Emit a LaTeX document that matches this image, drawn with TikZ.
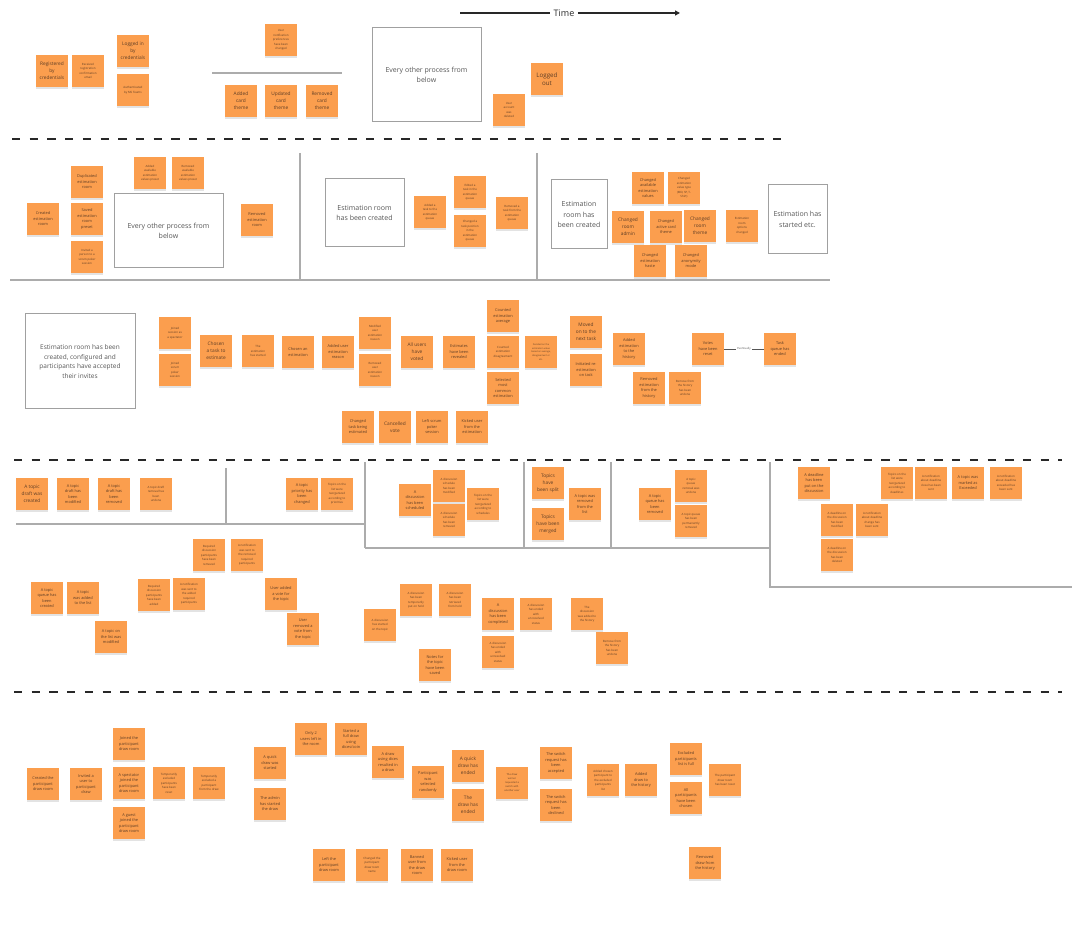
\documentclass[tikz,border=0pt]{standalone}
\usepackage{fontspec}
\setmainfont{Open Sans}
\usetikzlibrary{arrows.meta,positioning,shadows}

\definecolor{sticky}{RGB}{251,158,78}
\definecolor{stickytext}{RGB}{95,62,38}
\definecolor{divider}{RGB}{172,172,172}
\definecolor{boxline}{RGB}{160,160,160}
\definecolor{boxtext}{RGB}{85,85,85}
\definecolor{lane}{RGB}{40,40,40}

\begin{document}
\begin{tikzpicture}[x=1pt, y=-1pt,
  note/.style={rectangle, fill=sticky, text=stickytext, minimum width=32, minimum height=32, inner sep=1pt, align=center,
    drop shadow={shadow xshift=0pt, shadow yshift=-1.6pt, opacity=.22}},
  ltxt/.style={note, font=\fontsize{4.8}{7}\selectfont},
  mtxt/.style={note, font=\fontsize{3.9}{5.5}\selectfont},
  stxt/.style={note, font=\fontsize{2.9}{4.5}\selectfont},
  procbox/.style={rectangle, draw=boxline, line width=1pt, text=boxtext, align=center, font=\fontsize{7}{10.5}\selectfont},
  divide/.style={divider, line width=1.3pt},
  lanesep/.style={lane, line width=2pt, dash pattern=on 8.3pt off 9.4pt}]
\useasboundingbox (0,0) rectangle (1080,925);

% swimlane separators
\foreach \ya/\xa/\xb in {139/12/790, 460/14/1062, 692/14/1062}
  \draw[lanesep] (\xa,\ya) -- (\xb,\ya);

% time axis
\node[font=\fontsize{9}{10}\selectfont, text=lane] (time) at (564,13) {Time};
\coordinate (tstart) at (460,13);
\coordinate (tend) at (680,13);
\draw[lane, line width=1.3pt] (tstart) -- (time.west);
\draw[lane, line width=1.3pt, -{Triangle[length=5pt,width=5pt]}] (time.east) -- (tend);

% ---- accounts ----
\node[ltxt] (reg) at (52,71) {Registered\\by\\credentials};
\node[stxt] (regmail) at (88,71) {Received\\registration\\confirmation\\email};
\node[ltxt] (login) at (133,51) {Logged in\\by\\credentials};
\node[stxt] (msteams) at (133,90) {Authenticated\\by MS Teams};
\node[stxt] (notifpref) at (281,40) {User\\notification\\preferences\\have been\\changed};
\draw[divide] (212,73) -- (342,73);
\node[ltxt] (addtheme) at (241,101) {Added\\card\\theme};
\node[ltxt] (updtheme) at (281,101) {Updated\\card\\theme};
\node[ltxt] (remtheme) at (322,101) {Removed\\card\\theme};
\node[procbox, minimum width=109, minimum height=94] (other1) at (426.5,75) {Every other process from\\below};
\node[note, font=\fontsize{6.2}{8.5}\selectfont] (logout) at (547,79) {Logged\\out};
\node[stxt] (accdel) at (509,110) {User\\account\\was\\deleted};

% ---- estimation room setup ----
\draw[divide] (300,153) -- (300,280);
\draw[divide] (537,153) -- (537,280);
\draw[divide] (10,280) -- (830,280);
\node[mtxt] (created) at (43,219) {Created\\estimation\\room};
\node[mtxt] (dup) at (87,182) {Duplicated\\estimation\\room};
\node[mtxt] (saved) at (87,219) {Saved\\estimation\\room\\preset};
\node[stxt] (invited) at (87,257) {Invited a\\person to a\\scrum poker\\session};
\node[stxt] (addpreset) at (150,173) {Added\\available\\estimation\\values preset};
\node[stxt] (rempreset) at (188,173) {Removed\\available\\estimation\\values preset};
\node[procbox, minimum width=109, minimum height=74] (other2) at (168.5,231) {Every other process from\\below};
\node[mtxt] (remroom) at (257,220) {Removed\\estimation\\room};
\node[procbox, minimum width=79, minimum height=68] (roomcr1) at (364.5,213) {Estimation room\\has been created};
\node[stxt] (addtask) at (430,212) {Added a\\task to the\\estimation\\queue};
\node[stxt] (edittask) at (470,192) {Edited a\\task in the\\estimation\\queue};
\node[stxt] (postask) at (470,231) {Changed a\\task position\\in the\\estimation\\queue};
\node[stxt] (remtask) at (512,213) {Removed a\\task from the\\estimation\\queue};
\node[procbox, minimum width=56, minimum height=69] (roomcr2) at (579,214.5) {Estimation\\room has\\been created};
\node[mtxt] (chvalues) at (648,188) {Changed\\available\\estimation\\values};
\node[stxt] (chtype) at (684,188) {Changed\\estimation\\value type\\(MD, SP, T-\\Shirt)};
\node[ltxt] (chadmin) at (628,227) {Changed\\room\\admin};
\node[mtxt] (chcard) at (666,227) {Changed\\active card\\theme};
\node[ltxt] (chtheme) at (700,226) {Changed\\room\\theme};
\node[stxt] (options) at (742,226) {Estimation\\room\\options\\changed};
\node[mtxt] (haste) at (650,261) {Changed\\estimation\\haste};
\node[mtxt] (anon) at (691,261) {Changed\\anonymity\\mode};
\node[procbox, minimum width=59, minimum height=69] (estst) at (797.5,219.5) {Estimation has\\started etc.};

% ---- estimation ----
\node[procbox, minimum width=110, minimum height=95, font=\fontsize{6.5}{9.5}\selectfont] (ready) at (80,361.5) {Estimation room has been\\created, configured and\\participants have accepted\\their invites};
\node[stxt] (spect) at (175,333) {Joined\\session as\\a spectator};
\node[stxt] (joined) at (175,370) {Joined\\scrum\\poker\\session};
\node[ltxt] (chosen) at (216,351) {Chosen\\a task to\\estimate};
\node[stxt] (started) at (258,351) {The\\estimation\\has started};
\node[mtxt] (chest) at (298,352) {Chosen an\\estimation};
\node[mtxt] (addreason) at (338,352) {Added user\\estimation\\reason};
\node[stxt] (modreason) at (375,333) {Modified\\user\\estimation\\reason};
\node[stxt] (remreason) at (375,370) {Removed\\user\\estimation\\reason};
\node[ltxt] (voted) at (417,352) {All users\\have\\voted};
\node[mtxt] (revealed) at (459,352) {Estimates\\have been\\revealed};
\node[mtxt] (average) at (503,316) {Counted\\estimation\\average};
\node[stxt] (disagree) at (503,352) {Counted\\estimation\\disagreement};
\node[mtxt] (common) at (503,388) {Selected\\most\\common\\estimation};
\node[note, font=\fontsize{2.3}{3.6}\selectfont] (decided) at (541,352) {Decided on the\\estimation value\\based on average,\\disagreement or\\etc.};
\node[ltxt] (nexttask) at (586,332) {Moved\\on to the\\next task};
\node[mtxt] (reest) at (586,370) {Initiated re-\\estimation\\on task};
\node[mtxt] (addhist) at (629,349) {Added\\estimation\\to the\\history};
\node[mtxt] (remhist) at (649,388) {Removed\\estimation\\from the\\history};
\node[stxt] (undohist) at (685,388) {Remove from\\the history\\has been\\undone};
\node[mtxt] (reset) at (708,349) {Votes\\have been\\reset};
\node[mtxt] (queueend) at (780,349) {Task\\queue has\\ended};
\draw[boxtext, line width=.8pt] (reset) -- node[fill=white, inner sep=1pt, font=\fontsize{2.8}{3}\selectfont] {Eventually} (queueend);
\node[mtxt] (chtask) at (358,427) {Changed\\task being\\estimated};
\node[ltxt] (cancel) at (395,427) {Cancelled\\vote};
\node[mtxt] (leftpoker) at (432,427) {Left scrum\\poker\\session};
\node[mtxt] (kicked) at (472,427) {Kicked user\\from the\\estimation};

% ---- topics and discussions ----
\draw[divide] (226,468) -- (226,524);
\draw[divide] (16,524) -- (365,524);
\foreach \xv in {365,524,611} \draw[divide] (\xv,462) -- (\xv,548);
\draw[divide] (365,548) -- (770,548);
\draw[divide] (770,462) -- (770,588);
\draw[divide] (770,587) -- (1072,587);
\node[ltxt] (draftc) at (32,494) {A topic\\draft was\\created};
\node[mtxt] (draftm) at (73,494) {A topic\\draft has\\been\\modified};
\node[mtxt] (draftr) at (114,494) {A topic\\draft has\\been\\removed};
\node[stxt] (draftu) at (156,494) {A topic draft\\removal has\\been\\undone};
\node[mtxt] (prio) at (302,494) {A topic\\priority has\\been\\changed};
\node[stxt] (reorgp) at (337,494) {Topics on the\\list were\\reorganized\\according to\\priorities};
\node[stxt] (reqrem) at (209,555) {Required\\discussion\\participants\\have been\\removed};
\node[stxt] (notifrem) at (247,555) {A notification\\was sent to\\the removed\\required\\participants};
\node[mtxt] (qcreated) at (47,598) {A topic\\queue has\\been\\created};
\node[mtxt] (added) at (83,598) {A topic\\was added\\to the list};
\node[mtxt] (modified) at (111,637) {A topic on\\the list was\\modified};
\node[stxt] (reqadd) at (154,595) {Required\\discussion\\participants\\have been\\added};
\node[stxt] (notifadd) at (189,594) {A notification\\was sent to\\the added\\required\\participants};
\node[mtxt] (voteadd) at (281,594) {User added\\a vote for\\the topic};
\node[mtxt] (voterem) at (303,629) {User\\removed a\\vote from\\the topic};
\node[mtxt] (sched) at (415,500) {A\\discussion\\has been\\scheduled};
\node[stxt] (schedmod) at (449,486) {A discussion\\schedule\\has been\\modified};
\node[stxt] (schedrem) at (449,520) {A discussion\\schedule\\has been\\removed};
\node[stxt] (reorgs) at (483,504) {Topics on the\\list were\\reorganized\\according to\\schedules};
\node[ltxt] (split) at (548,483) {Topics\\have\\been split};
\node[ltxt] (merged) at (548,524) {Topics\\have been\\merged};
\node[mtxt] (topicrem) at (585,504) {A topic was\\removed\\from the\\list};
\node[mtxt] (qrem) at (655,504) {A topic\\queue has\\been\\removed};
\node[stxt] (qundo) at (691,486) {A topic\\queue\\removal was\\undone};
\node[stxt] (qperm) at (691,521) {A topic queue\\has been\\permanently\\removed};
\node[stxt] (dstart) at (380,625) {A discussion\\has started\\on the topic};
\node[stxt] (hold) at (416,600) {A discussion\\has been\\temporarily\\put on hold};
\node[stxt] (retrieved) at (455,600) {A discussion\\has been\\retrieved\\from hold};
\node[mtxt] (notes) at (435,665) {Notes for\\the topic\\have been\\saved};
\node[mtxt] (complete) at (498,614) {A\\discussion\\has been\\completed};
\node[stxt] (unres) at (498,652) {A discussion\\has ended\\with\\unresolved\\status};
\node[stxt] (resolved) at (536,614) {A discussion\\has ended\\with\\an resolved\\status};
\node[stxt] (dhist) at (587,614) {The\\discussion\\was added to\\the history};
\node[stxt] (dundo) at (612,648) {Remove from\\the history\\has been\\undone};
\node[mtxt] (deadline) at (814,483) {A deadline\\has been\\put on the\\discussion};
\node[stxt] (reorgd) at (897,483) {Topics on the\\list were\\reorganized\\according to\\deadlines};
\node[stxt] (notifclose) at (931,483) {A notification\\about deadline\\close has been\\sent};
\node[mtxt] (exceeded) at (968,483) {A topic was\\marked as\\Exceeded};
\node[stxt] (notifexc) at (1006,483) {A notification\\about deadline\\exceeded has\\been sent};
\node[stxt] (dlmod) at (837,520) {A deadline on\\the discussion\\has been\\modified};
\node[stxt] (notifchg) at (872,520) {A notification\\about deadline\\change has\\been sent};
\node[stxt] (dldel) at (837,555) {A deadline on\\the discussion\\has been\\deleted};

% ---- participant draw ----
\node[mtxt] (drcreated) at (43,784) {Created the\\participant\\draw room};
\node[mtxt] (invuser) at (86,784) {Invited a\\user to\\participant\\draw};
\node[mtxt] (drjoined) at (129,744) {Joined the\\participant\\draw room};
\node[mtxt] (drspect) at (129,783) {A spectator\\joined the\\participant\\draw room};
\node[mtxt] (drguest) at (129,823) {A guest\\joined the\\participant\\draw room};
\node[stxt] (exreset) at (169,783) {Temporarily\\excluded\\participants\\have been\\reset};
\node[stxt] (exone) at (209,783) {Temporarily\\excluded a\\participant\\from the draw};
\node[mtxt] (quick) at (270,763) {A quick\\draw was\\started};
\node[mtxt] (admin) at (270,804) {The admin\\has started\\the draw};
\node[mtxt] (only2) at (311,739) {Only 2\\users left in\\the room};
\node[mtxt] (fulldraw) at (351,739) {Started a\\full draw\\using\\dices/coin};
\node[mtxt] (dices) at (388,762) {A draw\\using dices\\resulted in\\a draw};
\node[mtxt] (random) at (428,782) {Participant\\was\\selected\\randomly};
\node[mtxt] (drleft) at (329,865) {Left the\\participant\\draw room};
\node[stxt] (drname) at (372,865) {Changed the\\participant\\draw room\\name};
\node[mtxt] (banned) at (417,865) {Banned\\user from\\the draw\\room};
\node[mtxt] (drkick) at (457,865) {Kicked user\\from the\\draw room};
\node[ltxt] (quickend) at (468,766) {A quick\\draw has\\ended};
\node[ltxt] (drawend) at (468,805) {The\\draw has\\ended};
\node[note, font=\fontsize{2.5}{4}\selectfont] (switchreq) at (512,783) {The draw\\winner\\requested a\\switch with\\another user};
\node[mtxt] (accepted) at (556,763) {The switch\\request has\\been\\accepted};
\node[mtxt] (declined) at (556,805) {The switch\\request has\\been\\declined};
\node[stxt] (addexcl) at (603,780) {Added chosen\\participant to\\the excluded\\participants\\list};
\node[mtxt] (drhist) at (641,780) {Added\\draw to\\the history};
\node[mtxt] (exfull) at (686,759) {Excluded\\participants\\list is full};
\node[mtxt] (allchosen) at (686,798) {All\\participants\\have been\\chosen};
\node[stxt] (drreset) at (725,780) {The participant\\draw room\\has been reset};
\node[mtxt] (drremhist) at (705,863) {Removed\\draw from\\the history};
\end{tikzpicture}
\end{document}
